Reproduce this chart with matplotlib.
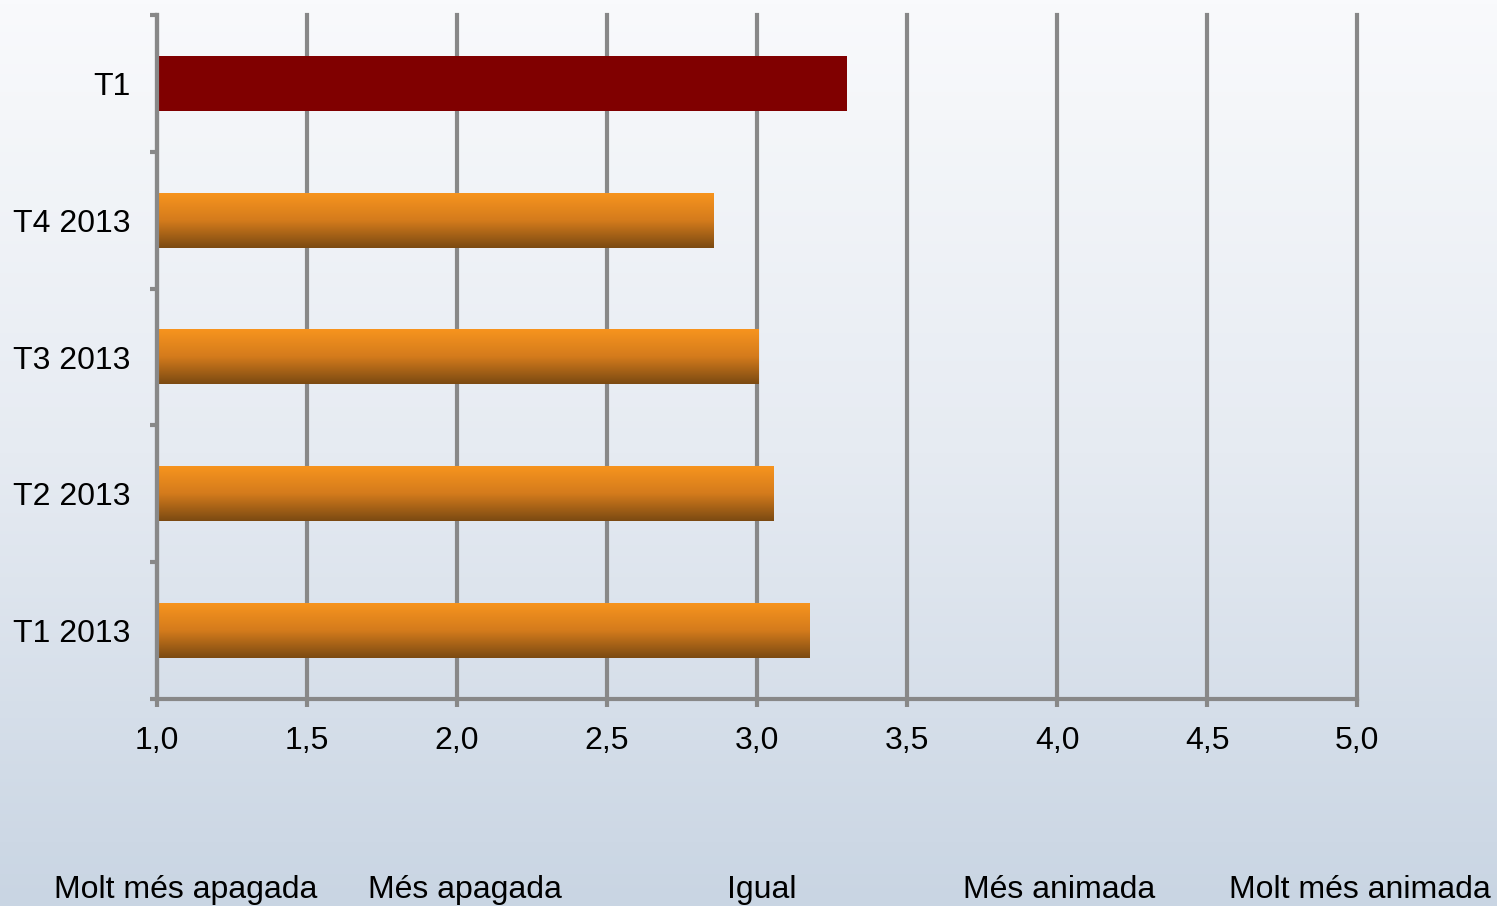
import numpy as np
import matplotlib
matplotlib.use("Agg")
import matplotlib.pyplot as plt
from matplotlib.colors import LinearSegmentedColormap
from matplotlib.ticker import FixedLocator

plt.rcParams['font.family'] = ['Liberation Sans', 'DejaVu Sans']

categories = ["T1", "T4 2013", "T3 2013", "T2 2013", "T1 2013"]
values = [3.30, 2.855, 3.005, 3.055, 3.175]
xticks = [1.0, 1.5, 2.0, 2.5, 3.0, 3.5, 4.0, 4.5, 5.0]
xtick_labels = ["1,0", "1,5", "2,0", "2,5", "3,0", "3,5", "4,0", "4,5", "5,0"]
scale_labels = ["Molt més apagada", "Més apagada", "Igual", "Més animada", "Molt més animada"]

W, H = 1497, 906
fig = plt.figure(figsize=(W / 100, H / 100), dpi=100)

# background gradient
bg = fig.add_axes([0, 0, 1, 1], zorder=0)
bg_cmap = LinearSegmentedColormap.from_list("bg", ["#f9fafc", "#e6ebf2", "#c9d5e3"])
bg.imshow(np.linspace(0, 1, 256).reshape(-1, 1), aspect="auto", cmap=bg_cmap,
          extent=[0, 1, 0, 1], origin="upper")
bg.axis("off")

left, right, top, bottom = 157, 1357, 15, 699
ax = fig.add_axes([left / W, 1 - bottom / H, (right - left) / W, (bottom - top) / H], zorder=1)
ax.patch.set_alpha(0)

y = np.arange(len(categories))
bars = ax.barh(y, [v - 1 for v in values], left=1, height=0.4, color="none", zorder=3)

orange = LinearSegmentedColormap.from_list("or", ["#f7941e", "#d47b1c", "#7b4a12"])
for i, b in enumerate(bars):
    x0, y0 = b.get_x(), b.get_y()
    x1, y1 = x0 + b.get_width(), y0 + b.get_height()
    if i == 0:
        b.set_facecolor("#800000")
    else:
        ax.imshow(np.linspace(0, 1, 128).reshape(-1, 1), aspect="auto", cmap=orange,
                  extent=[x0, x1, y1, y0], origin="upper", zorder=3)

ax.set_xlim(1, 5)
ax.set_ylim(len(categories) - 0.5, -0.5)

grid_c = "#888888"
lw = 3.0
ax.set_xticks(xticks)
ax.set_xticklabels(xtick_labels, fontsize=23)
ax.xaxis.grid(True, color=grid_c, linewidth=lw, zorder=2)
for gl in ax.get_xgridlines():
    gl.set_clip_on(False)
ax.set_axisbelow(True)
ax.tick_params(axis="x", length=5.5, width=lw, color=grid_c, pad=14)

ax.set_yticks(y)
ax.set_yticklabels(categories, fontsize=23)
ax.yaxis.set_minor_locator(FixedLocator(np.arange(-0.5, len(categories), 1)))
ax.tick_params(axis="y", which="major", length=0, pad=19)
ax.tick_params(axis="y", which="minor", length=5, width=lw, color=grid_c)

for s in ["top", "right"]:
    ax.spines[s].set_visible(False)
for s in ["left", "bottom"]:
    ax.spines[s].set_color(grid_c)
    ax.spines[s].set_linewidth(lw)
ax.spines["left"].set_zorder(4)

label_x = [1.095, 2.028, 3.017, 4.007, 5.01]
for lx, txt in zip(label_x, scale_labels):
    fx = (left + (lx - 1) * (right - left) / 4) / W
    fig.text(fx, 1 - 898 / H, txt, ha="center", va="baseline", fontsize=23)

fig.savefig("out.png", dpi=100)
